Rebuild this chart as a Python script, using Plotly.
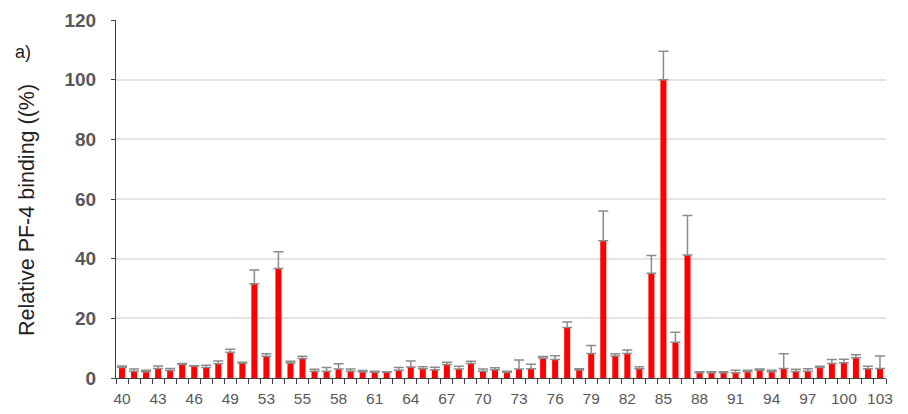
import plotly.graph_objects as go

categories = list(range(40, 104))
values = [3.5, 2.3, 2.1, 3.2, 2.5, 4.6, 3.9, 3.5, 4.8, 8.6,
          5.0, 31.6, 7.3, 36.7, 5.0, 6.5, 2.3, 2.3, 3.0, 2.3,
          2.0, 1.9, 1.9, 2.6, 3.7, 3.1, 2.8, 4.5, 3.0, 4.9,
          2.3, 2.8, 1.9, 3.0, 3.1, 6.6, 6.2, 16.9, 2.7, 8.2,
          46.0, 7.4, 8.2, 3.1, 35.1, 100.0, 12.0, 41.2, 1.8, 1.8,
          1.8, 1.8, 2.1, 2.6, 2.1, 3.2, 2.2, 2.3, 3.5, 4.9,
          5.1, 6.8, 3.1, 3.2]
errors = [0.5, 0.7, 0.5, 0.8, 0.7, 0.3, 0.2, 0.8, 0.9, 1.0,
          0.3, 4.6, 0.8, 5.6, 0.6, 0.8, 0.6, 1.2, 1.8, 0.7,
          0.5, 0.4, 0.2, 0.9, 2.0, 0.7, 0.8, 0.8, 0.9, 0.7,
          0.7, 0.6, 0.4, 3.0, 1.5, 0.6, 1.3, 1.9, 0.4, 2.7,
          10.0, 0.7, 1.2, 0.7, 6.0, 9.5, 3.3, 13.3, 0.3, 0.3,
          0.3, 0.8, 0.5, 0.4, 0.5, 4.9, 0.7, 0.8, 0.4, 1.3,
          1.2, 1.0, 0.8, 4.2]
tick_labels = ["40", "43", "46", "49", "53", "55", "58", "61", "64", "67", "70",
               "73", "76", "79", "82", "85", "88", "91", "94", "97", "100", "103"]
y_ticks = [0, 20, 40, 60, 80, 100, 120]

# page body has an 8px default margin; compensate in the figure size/margins
OFF = 8
ML, MR, MT, MB = 116 - OFF, 22, 20 - OFF, 36
W, H = 908 - OFF, 414 - OFF
PW = W - ML - MR
PH = H - MT - MB

fig = go.Figure(go.Bar(
    x=categories, y=values, width=0.5,
    marker=dict(color="#FF0000", line=dict(width=0)),
    error_y=dict(type="data", array=errors, symmetric=False,
                 arrayminus=[0] * len(errors), color="#8c8c8c",
                 thickness=1.5, width=5),
))

fig.update_layout(
    width=W, height=H,
    margin=dict(l=ML, r=MR, t=MT, b=MB, autoexpand=False),
    plot_bgcolor="white", paper_bgcolor="white",
    showlegend=False,
    font=dict(family="Liberation Sans, Arial, sans-serif", color="#595959"),
    xaxis=dict(
        range=[39.5, 103.5], automargin=False,
        tickvals=categories[::3], ticktext=tick_labels,
        ticks="", showgrid=False, zeroline=False,
        showline=True, linecolor="#404040", linewidth=1,
        tickfont=dict(size=15.5, color="#595959"),
        ticklabelstandoff=6,
        minor=dict(ticks="outside", tick0=39.5, dtick=1, ticklen=5,
                   tickcolor="#404040", tickwidth=1, showgrid=False),
    ),
    yaxis=dict(
        range=[0, 120], tickvals=y_ticks, automargin=False,
        ticks="outside", ticklen=4, tickcolor="#404040",
        showline=True, linecolor="#404040", linewidth=1,
        showgrid=True, gridcolor="#e4e4e4", gridwidth=1.5,
        zeroline=False,
        tickfont=dict(size=19, color="#595959",
                      family="Liberation Sans, Arial, sans-serif", weight="bold"),
        ticklabelstandoff=11,
    ),
    annotations=[
        dict(text="Relative PF-4 binding ((%)", textangle=-90,
             xref="paper", yref="paper",
             x=(27 - 116) / PW, y=(378 - 210) / PH,
             xanchor="center", yanchor="middle", showarrow=False,
             font=dict(size=21.5, color="#222222")),
        dict(text="a)", xref="paper", yref="paper",
             x=(23 - 116) / PW, y=(378 - 52) / PH,
             xanchor="center", yanchor="middle", showarrow=False,
             font=dict(size=18, color="#222222")),
    ],
)

fig.write_html("out.html")
